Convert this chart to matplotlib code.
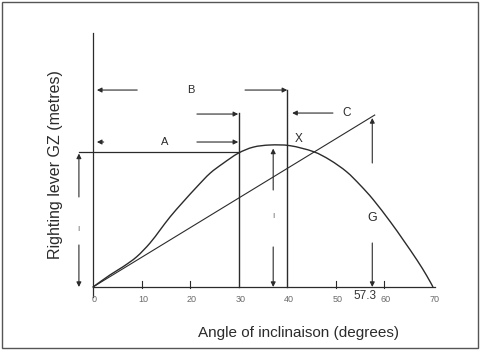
import numpy as np
import matplotlib.pyplot as plt
from matplotlib.patches import Rectangle, PathPatch
from matplotlib.path import Path

# GZ curve (angle in degrees, GZ scaled so max = 1)
gz_angle = [0, 3.5, 6.2, 9.0, 11.7, 13.8, 15.9, 18.6, 21.4, 24.1, 26.8, 29.9, 33.0, 36.5,
            40.6, 45.4, 48.8, 52.2, 55.0, 57.7, 61.2, 63.9, 66.7, 68.7, 70.0]
gz_value = [0, 0.085, 0.143, 0.213, 0.308, 0.401, 0.495, 0.601, 0.706, 0.801, 0.871, 0.942, 0.985, 1.0,
            0.995, 0.953, 0.894, 0.812, 0.718, 0.615, 0.46, 0.33, 0.19, 0.08, 0.0]

# tangent at origin, drawn up to one radian
tangent_angle = [0, 58]
tangent_value = [0, 1.211]

tick_angles = [0, 10, 20, 30, 40, 50, 60, 70]
tick_labels = ["0", "10", "20", "30", "40", "50", "60", "70"]

INK = "#2b2b2b"
FAINT = "#6a6a6a"
FONT = "Liberation Sans"

fig = plt.figure(figsize=(4.82, 3.53), dpi=100)
ax = fig.add_axes([0, 0, 1, 1])
# map the whole figure to data units: 4.857 px per degree, 142 px per GZ unit
ax.set_xlim(-93 / 4.857, (482 - 93) / 4.857)
ax.set_ylim(-(353 - 287) / 142, 287 / 142)
ax.axis("off")

# outer frame of the scanned figure
fig.patches.append(Rectangle((2 / 482, 5 / 353), 476 / 482, 346 / 353, transform=fig.transFigure,
                             fill=False, edgecolor="#555555", lw=1.0))

# axes lines
ax.plot([0, 0], [-0.07, 1.789], color=INK, lw=0.9)
ax.plot([0, 70.5], [0, 0], color=INK, lw=0.9)
for a in [10, 20, 50, 60]:
    ax.plot([a, a], [-0.01, 0.045], color=INK, lw=0.8)

for a, lab in zip(tick_angles, tick_labels):
    ax.text(a + 0.3, -0.09, lab, ha="center", va="center", fontsize=6.5, color=FAINT, family=FONT)
ax.text(55.9, -0.065, "57.3", ha="center", va="center", fontsize=8.5, color="#333333", family=FONT)


# GZ curve drawn as a smooth path through the read points
def smooth_path(xs, ys):
    pts = np.column_stack([xs, ys])
    verts = [pts[0]]
    codes = [Path.MOVETO]
    n = len(pts)
    for i in range(n - 1):
        p0 = pts[max(i - 1, 0)]
        p1 = pts[i]
        p2 = pts[i + 1]
        p3 = pts[min(i + 2, n - 1)]
        verts += [p1 + (p2 - p0) / 6, p2 - (p3 - p1) / 6, p2]
        codes += [Path.CURVE4] * 3
    return Path(verts, codes)


ax.add_patch(PathPatch(smooth_path(gz_angle, gz_value), fill=False, edgecolor=INK, lw=1.0))
ax.plot(tangent_angle, tangent_value, color=INK, lw=0.8)

# construction lines
ax.plot([-2.9, 30], [0.951, 0.951], color=INK, lw=0.9)
ax.plot([30, 30], [0, 1.225], color=INK, lw=1.0)
ax.plot([40, 40], [0, 1.387], color=INK, lw=1.0)


def arrow(x0, y0, x1, y1):
    ax.annotate("", xy=(x1, y1), xytext=(x0, y0),
                arrowprops=dict(arrowstyle="-|>", color=INK, lw=0.8, mutation_scale=7,
                                shrinkA=0, shrinkB=0))


# B dimension
arrow(9.1, 1.387, 0.8, 1.387)
arrow(31.3, 1.387, 40.0, 1.387)
ax.text(20.2, 1.387, "B", ha="center", va="center", fontsize=8, color=INK, family=FONT)
# arrows onto the 30 degree line
arrow(21.4, 1.218, 29.9, 1.218)
arrow(21.4, 1.021, 29.9, 1.021)
# A dimension
arrow(2.2, 1.021, 0.8, 1.021)
ax.text(14.8, 1.021, "A", ha="center", va="center", fontsize=8, color=INK, family=FONT)
# C and X
arrow(49.4, 1.225, 41.0, 1.225)
ax.text(52.3, 1.225, "C", ha="center", va="center", fontsize=8.5, color=INK, family=FONT)
ax.text(42.4, 1.04, "X", ha="center", va="center", fontsize=8.5, color=INK, family=FONT)

# vertical dimension arrows
arrow(-2.9, 0.634, -2.9, 0.94)
arrow(-2.9, 0.296, -2.9, 0.0)
ax.text(-2.9, 0.415, "ı", ha="center", va="center", fontsize=6, color=FAINT)
arrow(37.1, 0.683, 37.1, 0.975)
arrow(37.1, 0.282, 37.1, 0.0)
ax.text(37.1, 0.507, "ı", ha="center", va="center", fontsize=6, color=FAINT)
arrow(57.5, 0.873, 57.5, 1.19)
arrow(57.5, 0.31, 57.5, 0.0)
ax.text(57.5, 0.486, "G", ha="center", va="center", fontsize=9, color=INK, family=FONT)

# axis titles
ax.text(-7.8, 0.86, "Righting lever GZ (metres)", rotation=90, ha="center", va="center",
        fontsize=11.5, color=INK, family=FONT)
ax.text(42.3, -0.324, "Angle of inclinaison (degrees)", ha="center", va="center",
        fontsize=11, color=INK, family=FONT)

fig.savefig("out.png", dpi=100)
